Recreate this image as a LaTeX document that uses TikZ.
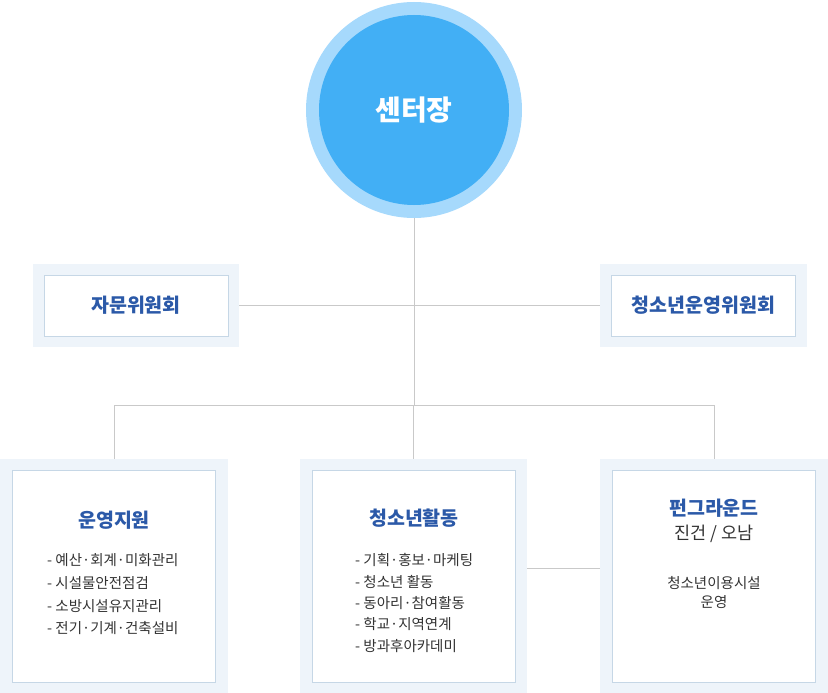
\documentclass[tikz,border=0pt]{standalone}
\usepackage{fontspec}
\setmainfont{Noto Sans CJK KR}

\definecolor{ringblue}{HTML}{A6D9FC}
\definecolor{headblue}{HTML}{42AFF5}
\definecolor{titleblue}{HTML}{2B59A8}
\definecolor{panelbg}{HTML}{EEF4FA}
\definecolor{panelline}{HTML}{C6D7E6}
\definecolor{linkgray}{HTML}{C9C9C9}
\definecolor{bodytext}{HTML}{333333}

\tikzset{
  panel/.style={fill=panelbg, draw=none, inner sep=0pt},
  card/.style={fill=white, draw=panelline, line width=0.9pt, inner sep=0pt},
  link/.style={draw=linkgray, line width=0.9pt},
  titletext/.style={font=\fontsize{19.5}{23}\selectfont\bfseries, text=titleblue, inner sep=0pt},
  itemtext/.style={text=bodytext, align=left, inner sep=0pt},
}

\begin{document}
\begin{tikzpicture}[x=1pt, y=-1pt]
  \useasboundingbox (0,0) rectangle (828,693);

  % Director circle
  \node[circle, fill=ringblue, minimum size=216pt, inner sep=0pt] (ring) at (414,110) {};
  \node[circle, fill=headblue, minimum size=190pt, inner sep=0pt,
        font=\fontsize{28}{32}\selectfont\bfseries, text=white] (head) at (ring.center) {센터장};

  % Committees
  \node[panel, minimum width=206pt, minimum height=83pt] (advOut) at (136,305.5) {};
  \node[card, minimum width=184pt, minimum height=61pt] (adv) at (advOut.center) {};
  \node[titletext] (advTitle) at (adv.center) {자문위원회};

  \node[panel, minimum width=207pt, minimum height=83pt] (comOut) at (703.5,305.5) {};
  \node[card, minimum width=184pt, minimum height=61pt] (com) at (comOut.center) {};
  \node[titletext] (comTitle) at (com.center) {청소년운영위원회};

  % Departments
  \foreach \nm/\cx/\bw in {ops/114/228, act/413.5/227, fun/714/228}{
    \node[panel, minimum width=\bw pt, minimum height=234pt] (\nm Out) at (\cx,576) {};
    \node[card, minimum width=203pt, minimum height=212pt] (\nm) at (\nm Out.center) {};
  }

  % Department texts
  \node[titletext] (opsTitle) at (114,520) {운영지원};
  \node[itemtext, anchor=west, font=\fontsize{14.5}{22.7}\selectfont] (opsList) at (47,594.5)
    {- 예산·회계·미화관리\\- 시설물안전점검\\- 소방시설유지관리\\- 전기·기계·건축설비};

  \node[titletext] (actTitle) at (414,518) {청소년활동};
  \node[itemtext, anchor=west, font=\fontsize{14.5}{21.3}\selectfont] (actList) at (355,603)
    {- 기획·홍보·마케팅\\- 청소년 활동\\- 동아리·참여활동\\- 학교·지역연계\\- 방과후아카데미};

  \node[titletext] (funTitle) at (714,508) {펀그라운드};
  \node[itemtext, align=center, font=\fontsize{17.5}{21}\selectfont] (funSites) at (714,534) {진건 / 오남};
  \node[itemtext, align=center, font=\fontsize{14.5}{19.5}\selectfont] (funNote) at (714,592.5)
    {청소년이용시설\\운영};

  % Connectors
  \coordinate (split) at (414,405);
  \draw[link] (ring.south) -- (split);
  \draw[link] (advOut.east) -- (comOut.west);
  \draw[link] (split -| opsOut.north) -- (split -| funOut.north);
  \foreach \nm in {ops, act, fun}
    \draw[link] (split -| \nm Out.north) -- (\nm Out.north);
  \draw[link] ([yshift=8pt]actOut.east) -- ([yshift=8pt]funOut.west);
\end{tikzpicture}
\end{document}
